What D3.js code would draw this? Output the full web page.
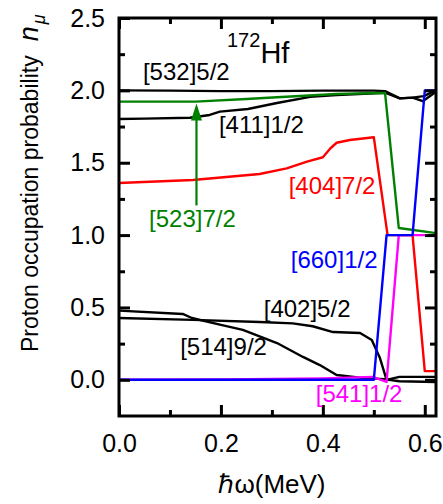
<!DOCTYPE html>
<html>
<head>
<meta charset="utf-8">
<script src="https://cdn.jsdelivr.net/npm/d3@7"></script>
<style>
  body { margin: 0; background: #fff; }
  svg { display: block; font-family: Arial, "Liberation Sans", sans-serif; }
</style>
</head>
<body>
<script>
// ---- data (hbar*omega in MeV, occupation probability) ----
const orb532_52 = [[0, 2.0], [0.1, 1.998], [0.2, 1.995], [0.3, 1.995], [0.4, 1.998], [0.5, 1.998], [0.522, 1.995], [0.551, 1.945], [0.576, 1.95], [0.598, 1.96], [0.622, 2.0]]
const orb411_12 = [[0, 1.802], [0.05, 1.805], [0.139, 1.811], [0.178, 1.83], [0.198, 1.853], [0.253, 1.871], [0.31, 1.913], [0.375, 1.955], [0.427, 1.968], [0.492, 1.978], [0.522, 1.985], [0.551, 1.945], [0.576, 1.95], [0.596, 1.925], [0.622, 1.99]]
const orb523_72 = [[0, 1.922], [0.15, 1.922], [0.25, 1.94], [0.31, 1.952], [0.427, 1.975], [0.49, 1.98], [0.522, 1.982], [0.549, 1.049], [0.622, 1.014]]
const orb404_72 = [[0, 1.36], [0.145, 1.381], [0.276, 1.422], [0.329, 1.461], [0.369, 1.507], [0.4, 1.538], [0.415, 1.6], [0.427, 1.638], [0.453, 1.657], [0.5, 1.676], [0.527, 1.0], [0.576, 1.0], [0.6, 0.06], [0.622, 0.06]]
const orb660_12 = [[0, 0], [0.1, 0], [0.2, 0], [0.3, 0], [0.4, 0], [0.5, 0], [0.525, 1.0], [0.576, 1.0], [0.6, 2.0], [0.622, 2.0]]
const orb541_12 = [[0, 0], [0.2, 0.003], [0.4, 0.01], [0.498, 0.02], [0.525, -0.015], [0.549, 1.0], [0.622, 1.0]]
const orb402_52 = [[0, 0.427], [0.145, 0.414], [0.276, 0.4], [0.341, 0.39], [0.38, 0.37], [0.42, 0.33], [0.473, 0.323], [0.496, 0.275], [0.512, 0.15], [0.525, 0.0], [0.55, 0.02], [0.622, 0.02]]
const orb514_92 = [[0, 0.478], [0.125, 0.455], [0.143, 0.427], [0.2, 0.38], [0.243, 0.345], [0.31, 0.254], [0.361, 0.158], [0.394, 0.102], [0.427, 0.033], [0.473, 0.015], [0.52, 0.005], [0.55, -0.01], [0.622, -0.015]]

const xMajor = [0, 0.2, 0.4, 0.6]
const xMinor = [0.1, 0.3, 0.5]
const yMajor = [0, 0.5, 1.0, 1.5, 2.0, 2.5]
const yMinor = [0.25, 0.75, 1.25, 1.75, 2.25]

// ---- layout ----
const W = 443, H = 504
const plotL = 119, plotR = 436, plotT = 18, plotB = 416

const svg = d3.select('body').append('svg')
    .attr('width', W)
    .attr('height', H)

const x = d3.scaleLinear().domain([0, 0.622]).range([plotL, plotR])
const y = d3.scaleLinear().domain([-0.25, 2.5]).range([plotB, plotT])

const line = d3.line()
    .x(d => x(d[0]))
    .y(d => y(d[1]))

// curves (order matters for overlaps)
const series = [
    { data: orb532_52, color: '#000000' },
    { data: orb411_12, color: '#000000' },
    { data: orb402_52, color: '#000000' },
    { data: orb514_92, color: '#000000' },
    { data: orb523_72, color: '#008000' },
    { data: orb404_72, color: '#ff0000' },
    { data: orb541_12, color: '#ff00ff' },
    { data: orb660_12, color: '#0000ff' }
]

svg.append('g')
    .selectAll('path')
    .data(series)
    .enter().append('path')
    .attr('d', d => line(d.data))
    .attr('fill', 'none')
    .attr('stroke', d => d.color)
    .attr('stroke-width', 2.4)
    .attr('stroke-linejoin', 'round')

// arrow for [523]7/2
const arrowX = 0.152
svg.append('line')
    .attr('x1', x(arrowX)).attr('x2', x(arrowX))
    .attr('y1', y(1.205)).attr('y2', y(1.8))
    .attr('stroke', '#008000')
    .attr('stroke-width', 2.2)
svg.append('path')
    .attr('d', 'M' + x(arrowX) + ',' + y(1.91) + 'l-5.5,17h11z')
    .attr('fill', '#008000')

// ---- axes, ticks inward on all four sides ----
function ticks(axisFn, transform, vals, size, labels) {
    const ax = axisFn.tickValues(vals).tickSize(-size)
    if (labels) ax.tickFormat(d3.format('.1f')).tickPadding(labels)
    else ax.tickFormat('')
    const g = svg.append('g').attr('transform', transform).call(ax)
    g.select('.domain').remove()
    g.selectAll('line').attr('stroke', '#000').attr('stroke-width', 3)
    g.selectAll('text').attr('font-size', 25).attr('fill', '#000')
        .attr('font-family', 'Arial, "Liberation Sans", sans-serif')
    return g
}

ticks(d3.axisBottom(x), 'translate(0,' + plotB + ')', xMajor, 11, 18)
ticks(d3.axisBottom(x), 'translate(0,' + plotB + ')', xMinor, 6)
ticks(d3.axisTop(x), 'translate(0,' + plotT + ')', xMajor, 11)
ticks(d3.axisTop(x), 'translate(0,' + plotT + ')', xMinor, 6)
ticks(d3.axisLeft(y), 'translate(' + plotL + ',0)', yMajor, 11, 14)
ticks(d3.axisLeft(y), 'translate(' + plotL + ',0)', yMinor, 6)
ticks(d3.axisRight(y), 'translate(' + plotR + ',0)', yMajor, 11)
ticks(d3.axisRight(y), 'translate(' + plotR + ',0)', yMinor, 6)

svg.append('rect')
    .attr('x', plotL).attr('y', plotT)
    .attr('width', plotR - plotL).attr('height', plotB - plotT)
    .attr('fill', 'none')
    .attr('stroke', '#000')
    .attr('stroke-width', 3)

// ---- annotations ----
const annotations = [
    { text: '[532]5/2', color: '#000000', at: [0.047, 2.072] },
    { text: '[411]1/2', color: '#000000', at: [0.196, 1.706] },
    { text: '[404]7/2', color: '#ff0000', at: [0.333, 1.284] },
    { text: '[523]7/2', color: '#008000', at: [0.059, 1.056] },
    { text: '[660]1/2', color: '#0000ff', at: [0.337, 0.773] },
    { text: '[402]5/2', color: '#000000', at: [0.284, 0.434] },
    { text: '[514]9/2', color: '#000000', at: [0.12, 0.171] },
    { text: '[541]1/2', color: '#ff00ff', at: [0.386, -0.154] }
]

svg.append('g')
    .selectAll('text')
    .data(annotations)
    .enter().append('text')
    .attr('x', d => x(d.at[0]))
    .attr('y', d => y(d.at[1]))
    .attr('fill', d => d.color)
    .attr('font-size', 24)
    .text(d => d.text)

const nucl = svg.append('text')
    .attr('x', 227).attr('y', 63)
    .attr('font-size', 29)
nucl.append('tspan').attr('font-size', 20).attr('dy', -16).text('172')
nucl.append('tspan').attr('dy', 16).text('Hf')

// axis titles
svg.append('text')
    .attr('x', 272).attr('y', 493)
    .attr('text-anchor', 'middle')
    .attr('font-size', 26)
    .text('\u210Fω(MeV)')

const yt = svg.append('text')
    .attr('transform', 'translate(38,352) rotate(-90)')
    .attr('font-size', 23)
yt.append('tspan').text('Proton occupation probability')
yt.append('tspan').attr('dx', 14).attr('font-style', 'italic').attr('font-size', 27).text('n')
yt.append('tspan').attr('dx', 2).attr('dy', 7).attr('font-style', 'italic').attr('font-size', 18).text('μ')
</script>
</body>
</html>
